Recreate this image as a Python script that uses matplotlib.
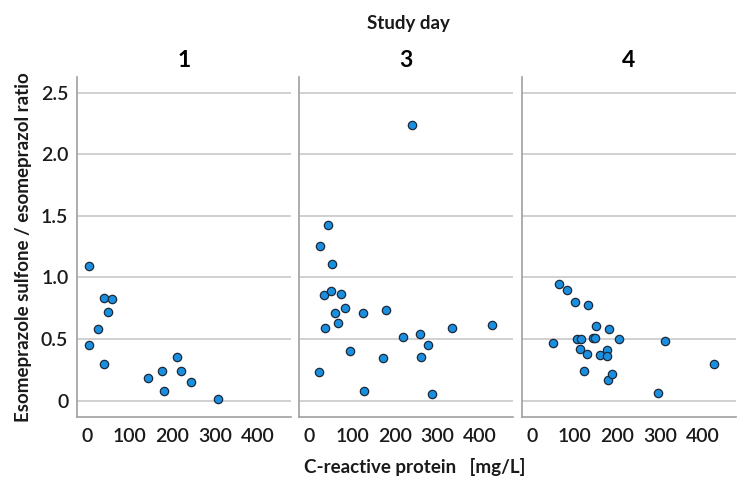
import numpy as np
import matplotlib
matplotlib.use("Agg")
import matplotlib.pyplot as plt

plt.rcParams['font.family'] = ['Lato', 'DejaVu Sans']

days = ["1", "3", "4"]

crp_day1 = [4, 41, 58, 49, 25, 4, 41, 143, 177, 181, 212, 220, 243, 307]
ratio_day1 = [1.09, 0.836, 0.828, 0.72, 0.579, 0.455, 0.30, 0.181, 0.241, 0.081,
              0.357, 0.243, 0.154, 0.014]

crp_day3 = [240, 43, 25, 52, 33, 51, 74, 59, 84, 66, 37, 125, 179, 94, 173, 220,
            258, 261, 278, 335, 429, 23, 128, 288]
ratio_day3 = [2.238, 1.423, 1.253, 1.109, 0.858, 0.89, 0.863, 0.714, 0.755, 0.628,
              0.593, 0.712, 0.733, 0.403, 0.346, 0.519, 0.538, 0.357, 0.449, 0.59,
              0.614, 0.233, 0.081, 0.051]

crp_day4 = [63, 83, 100, 132, 49, 106, 116, 113, 129, 123, 150, 181, 144, 148,
            205, 160, 177, 176, 179, 188, 295, 312, 426]
ratio_day4 = [0.947, 0.896, 0.80, 0.779, 0.471, 0.50, 0.50, 0.422, 0.381, 0.241,
              0.606, 0.584, 0.506, 0.511, 0.503, 0.371, 0.411, 0.365, 0.17, 0.216,
              0.062, 0.487, 0.295]

x_data = [crp_day1, crp_day3, crp_day4]
y_data = [ratio_day1, ratio_day3, ratio_day4]

yticks = [0, 0.5, 1.0, 1.5, 2.0, 2.5]
ytick_labels = ["0", "0.5", "1.0", "1.5", "2.0", "2.5"]
xticks = [0, 100, 200, 300, 400]

W, H = 747, 488
fig = plt.figure(figsize=(W / 100, H / 100), dpi=100)

lefts = [76.7, 299.3, 521.7]
pw = 214
top, bottom = 76.5, 417
grey = "#a0a0a0"

for i, (left, day) in enumerate(zip(lefts, days)):
    ax = fig.add_axes([left / W, 1 - bottom / H, pw / W, (bottom - top) / H])
    ax.scatter(x_data[i], y_data[i], s=36, color="#1a8fe0", edgecolor="#1c2a3a",
               linewidth=0.9, zorder=3)
    ax.set_xlim(-24, 478)
    ax.set_ylim(-0.132, 2.63)
    ax.set_yticks(yticks)
    ax.set_xticks(xticks)
    ax.set_xticklabels([str(t) for t in xticks], fontsize=14, fontweight="semibold",
                       color="#1a1a1a")
    if i == 0:
        ax.set_yticklabels(ytick_labels, fontsize=14, fontweight="semibold",
                           color="#1a1a1a")
    else:
        ax.set_yticklabels([])
    ax.tick_params(length=0, pad=8)
    ax.tick_params(axis="y", pad=6)
    ax.grid(axis="y", color="#c8c8c8", linewidth=1.2)
    for s in ["top", "right"]:
        ax.spines[s].set_visible(False)
    for s in ["left", "bottom"]:
        ax.spines[s].set_color(grey)
        ax.spines[s].set_linewidth(1.2)
    ax.set_title(day, fontsize=16.5, fontweight="bold", pad=7)

fig.text(408 / W, 1 - 23 / H, "Study day", ha="center", va="center",
         fontsize=13.5, fontweight="bold", color="#1a1a1a")
fig.text(415 / W, 1 - 467 / H, "C-reactive protein   [mg/L]", ha="center",
         va="center", fontsize=13.5, fontweight="bold", color="#1a1a1a")
fig.text(24 / W, 1 - 247 / H, "Esomeprazole sulfone / esomeprazol ratio",
         ha="center", va="center", rotation=90, fontsize=13.5, fontweight="bold",
         color="#1a1a1a")

fig.savefig("out.png", dpi=100)
